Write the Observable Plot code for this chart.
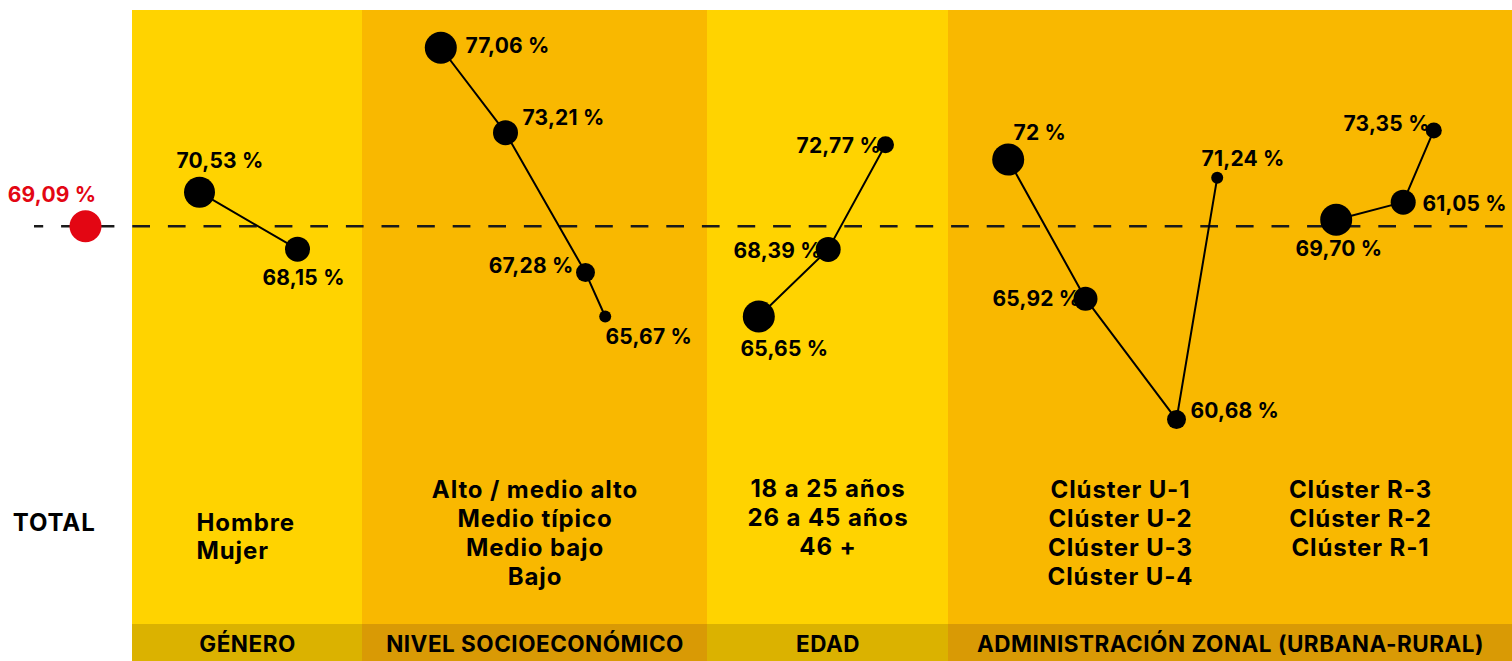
<!DOCTYPE html>
<html><head><meta charset="utf-8">
<script src="https://cdn.jsdelivr.net/npm/d3@7"></script>
<script src="https://cdn.jsdelivr.net/npm/@observablehq/plot@0.6"></script>
<style>
html,body{margin:0;padding:0;background:#fff;}
#chart svg{display:block;}
</style></head><body><div id="chart"></div>
<script>
// ---------------- DATA ----------------
const sections = ["GÉNERO", "NIVEL SOCIOECONÓMICO", "EDAD", "ADMINISTRACIÓN ZONAL (URBANA-RURAL)"];
const totalName = "TOTAL";
const totalValue = 69.24;          // plotted position of the total
const totalText = "69,09 %";

const generoCats = ["Hombre", "Mujer"];
const generoValues = [70.71, 68.25];
const generoText = ["70,53 %", "68,15 %"];

const nseCats = ["Alto / medio alto", "Medio típico", "Medio bajo", "Bajo"];
const nseValues = [76.95, 73.28, 67.24, 65.34];
const nseText = ["77,06 %", "73,21 %", "67,28 %", "65,67 %"];

const edadCats = ["18 a 25 años", "26 a 45 años", "46 +"];
const edadValues = [65.34, 68.24, 72.76];
const edadText = ["65,65 %", "68,39 %", "72,77 %"];

const urbanaCats = ["Clúster U-1", "Clúster U-2", "Clúster U-3", "Clúster U-4"];
const urbanaValues = [72.12, 66.11, 60.89, 71.33];
const urbanaText = ["72 %", "65,92 %", "60,68 %", "71,24 %"];

const ruralCats = ["Clúster R-3", "Clúster R-2", "Clúster R-1"];
const ruralValues = [69.52, 70.28, 73.38];
const ruralText = ["69,70 %", "61,05 %", "73,35 %"];

// ---------------- LAYOUT & STYLE ----------------
const W = 1512, H = 661;
const yDomain = [50.44, 78.99];
const rowToValue = d3.scaleLinear().domain([H, 0]).range(yDomain); // pixel row -> y units
const FONT = "Inter, 'Open Sans', sans-serif";
const VAL_FS = 21, CAT_FS = 24, FOOT_FS = 22.5;
const CAT_LH = 29 / CAT_FS;

const bandX = [[132, 362], [362, 707], [707, 948], [948, 1512]];
const bandFill = ["#FFD300", "#F9B800", "#FFD300", "#F9B800"];
const footFill = ["#DBB200", "#D99A05", "#DBB200", "#D99A05"];
const bandTop = 10, footTop = 624;

const seriesDefs = [
  {key: "genero", cats: generoCats, values: generoValues, text: generoText,
   dotX: [199, 297], r: [15.5, 12.5],
   lab: [["start", 176, 167], ["start", 262, 284]],
   catX: 196, catAnchor: "start", catBase: 530},
  {key: "nse", cats: nseCats, values: nseValues, text: nseText,
   dotX: [440.3, 505, 585, 604.7], r: [16, 12.5, 9.5, 6],
   lab: [["start", 465, 52], ["start", 522, 124], ["end", 573, 272], ["start", 605, 343]],
   catX: 534.5, catAnchor: "middle", catBase: 497.7},
  {key: "edad", cats: edadCats, values: edadValues, text: edadText,
   dotX: [758.3, 827.7, 885], r: [16, 12.5, 8.5],
   lab: [["start", 740, 355], ["start", 733, 257], ["start", 796, 152]],
   catX: 827.5, catAnchor: "middle", catBase: 496.7},
  {key: "urbana", cats: urbanaCats, values: urbanaValues, text: urbanaText,
   dotX: [1007.7, 1085, 1176, 1216.7], r: [16, 12, 9.5, 6],
   lab: [["start", 1013, 139], ["start", 992, 305], ["start", 1190, 417], ["start", 1201, 165]],
   catX: 1120, catAnchor: "middle", catBase: 497.3},
  {key: "rural", cats: ruralCats, values: ruralValues, text: ruralText,
   dotX: [1335.7, 1402.7, 1433.3], r: [16, 12.5, 8],
   lab: [["start", 1295, 255], ["start", 1422, 210], ["start", 1343, 130]],
   catX: 1360, catAnchor: "middle", catBase: 497.3}
];

// ---------------- TABLES ----------------
const points = [];
for (const s of seriesDefs) {
  s.values.forEach((v, i) => {
    const [anchor, lx, base] = s.lab[i];
    points.push({series: s.key, cat: s.cats[i], value: v, text: s.text[i],
      x: s.dotX[i], r: s.r[i], anchor, lx, ly: rowToValue(base - 0.32 * VAL_FS)});
  });
}
const bands = sections.map((name, i) => ({name, x1: bandX[i][0], x2: bandX[i][1],
  fill: bandFill[i], foot: footFill[i]}));
const catLabels = seriesDefs.map(s => ({text: s.cats.join("\n"), x: s.catX, anchor: s.catAnchor,
  y: rowToValue(s.catBase - 0.71 * CAT_LH * CAT_FS)}));

const textOpts = {fontFamily: FONT, fontWeight: 700, fill: "#000", lineAnchor: "middle"};

const chart = Plot.plot({
  width: W, height: H,
  marginTop: 0, marginRight: 0, marginBottom: 0, marginLeft: 0,
  x: {type: "linear", domain: [0, W], axis: null},
  y: {type: "linear", domain: yDomain, axis: null},
  r: {type: "linear", domain: [0, 20], range: [0, 20]},
  color: {type: "identity"},
  style: {background: "#fff"},
  marks: [
    Plot.rect(bands, {x1: "x1", x2: "x2", y1: rowToValue(footTop), y2: rowToValue(bandTop), fill: "fill"}),
    Plot.rect(bands, {x1: "x1", x2: "x2", y1: rowToValue(H), y2: rowToValue(footTop), fill: "foot"}),
    Plot.ruleY([totalValue], {x1: 34, x2: W, stroke: "#1a1a1a", strokeWidth: 2.5,
      strokeDasharray: "17.7,17.9", strokeDashoffset: 8.5}),
    Plot.line(points, {x: "x", y: "value", z: "series", stroke: "#000", strokeWidth: 2}),
    Plot.text(points.filter(d => d.anchor === "start"), {...textOpts, x: "lx", y: "ly", text: "text",
      textAnchor: "start", fontSize: VAL_FS}),
    Plot.text(points.filter(d => d.anchor === "end"), {...textOpts, x: "lx", y: "ly", text: "text",
      textAnchor: "end", fontSize: VAL_FS}),
    Plot.dot(points, {x: "x", y: "value", r: "r", fill: "#000"}),
    Plot.text([totalText], {...textOpts, x: 51.5, y: rowToValue(201 - 0.32 * VAL_FS), text: d => d,
      fill: "#E30613", fontSize: VAL_FS}),
    Plot.dot([totalValue], {x: 85, y: d => d, r: 16, fill: "#E30613"}),
    Plot.text([totalName], {...textOpts, x: 53.7, y: rowToValue(530.7 - 0.32 * CAT_FS), text: d => d,
      fontSize: CAT_FS}),
    Plot.text(catLabels.filter(d => d.anchor === "start"), {...textOpts, lineAnchor: "top",
      lineHeight: CAT_LH, x: "x", y: "y", text: "text", textAnchor: "start", fontSize: CAT_FS}),
    Plot.text(catLabels.filter(d => d.anchor === "middle"), {...textOpts, lineAnchor: "top",
      lineHeight: CAT_LH, x: "x", y: "y", text: "text", textAnchor: "middle", fontSize: CAT_FS}),
    Plot.text(bands, {...textOpts, x: d => (d.x1 + d.x2) / 2, y: rowToValue(651.7 - 0.32 * FOOT_FS),
      text: "name", fontSize: FOOT_FS})
  ]
});
// letter spacing for the wide geometric look
chart.querySelectorAll('g[font-size]').forEach(g => {
  const fs = +g.getAttribute("font-size");
  if (fs === CAT_FS) g.setAttribute("letter-spacing", "0.9");
  else if (fs === VAL_FS) g.setAttribute("letter-spacing", "0.2");
  else if (fs === FOOT_FS) g.setAttribute("letter-spacing", "0.5");
});
document.getElementById("chart").appendChild(chart);
</script></body></html>
